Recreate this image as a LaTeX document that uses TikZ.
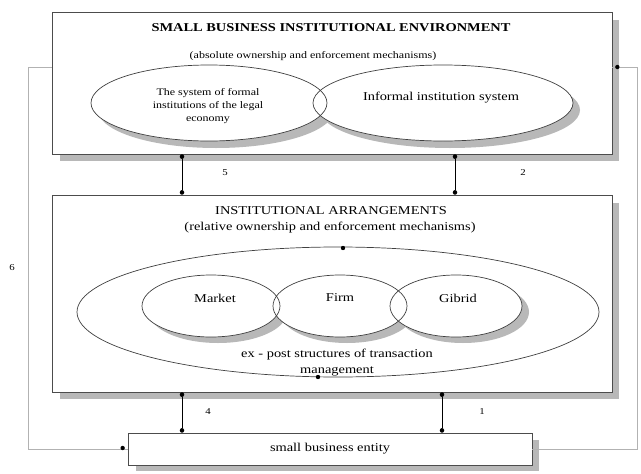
\documentclass[tikz,border=0pt]{standalone}
\usepackage{fontspec}
\setmainfont{Liberation Serif}[FakeStretch=1.2]
\usetikzlibrary{arrows.meta,calc}
\tikzset{
  box/.style={draw=black!70, line width=0.7pt, fill=white, rectangle, inner sep=0pt},
  conn/.style={draw=black, line width=0.5pt, {Circle[length=4.5pt]}-{Circle[length=4.5pt]}},
  fb/.style={draw=black!30, line width=0.8pt},
  lbl/.style={font=\fontsize{9}{10}\selectfont},
  txt/.style={font=\fontsize{12}{13}\selectfont, align=center},
  stxt/.style={font=\fontsize{10}{13}\selectfont, align=center},
  shd/.style={fill=black!28},
  ell/.style={draw=black!75, line width=0.7pt},
}
\begin{document}
\begin{tikzpicture}[x=1pt, y=-1pt]
\useasboundingbox (0,0) rectangle (641,474);
% box shadows
\fill[shd] (60,20) rectangle (619,161);
\fill[shd] (60,203) rectangle (619,399);
\fill[shd] (136,440) rectangle (539,471);
% boxes
\node[box, minimum width=560pt, minimum height=142pt] (top) at (332,83) {};
\node[box, minimum width=560pt, minimum height=197pt] (mid) at (332,293.5) {};
\node[box, minimum width=404pt, minimum height=32pt] (bot) at (330,449) {};
% feedback loops
\coordinate (lx) at (28,0);
\coordinate (rx) at (637,0);
\coordinate (fy) at (0,67);
\draw[fb] (top.west |- fy) -| (lx |- bot.west) -- (bot.west);
\fill[black] ($(bot.west)+(-5,-1)$) circle (2.2pt);
\draw[fb] (top.east |- fy) -| (rx |- bot.east) -- (bot.east);
\fill[black] ($(top.east |- fy)+(5,0)$) circle (2.2pt);
% top box texts
\node[font=\fontsize{12}{13}\selectfont\bfseries] (t1) at (331,28) {SMALL BUSINESS INSTITUTIONAL ENVIRONMENT};
\node[stxt] (t2) at (313,56) {(absolute ownership and enforcement mechanisms)};
% top ellipses
\fill[shd] (216,110) ellipse (118pt and 38pt);
\fill[shd] (450,110) ellipse (130pt and 38pt);
\fill[white] (209,103) ellipse (118pt and 38pt);
\fill[white] (443,103) ellipse (130pt and 38pt);
\draw[ell] (209,103) ellipse (118pt and 38pt);
\draw[ell] (443,103) ellipse (130pt and 38pt);
\node[stxt] (e1) at (208,106) {The system of formal\\institutions of the legal\\economy};
\node[txt] (e2) at (441,98) {Informal institution system};
% middle box texts
\node[txt] (m1) at (331,211) {INSTITUTIONAL ARRANGEMENTS};
\node[txt] (m2) at (330,228) {(relative ownership and enforcement mechanisms)};
% big ellipse
\draw[ell] (338,312) ellipse (261pt and 65pt);
\fill[black] (343,248) circle (2.2pt);
\fill[black] (318,377) circle (2.2pt);
% inner ellipses
\fill[shd] (218,312) ellipse (69pt and 31pt);
\fill[shd] (347,312) ellipse (67pt and 31pt);
\fill[shd] (463,312) ellipse (66pt and 31pt);
\fill[white] (211,306) ellipse (69pt and 31pt);
\fill[white] (340,306) ellipse (67pt and 31pt);
\fill[white] (456,306) ellipse (66pt and 31pt);
\draw[ell] (211,306) ellipse (69pt and 31pt);
\draw[ell] (340,306) ellipse (67pt and 31pt);
\draw[ell] (456,306) ellipse (66pt and 31pt);
\node[txt] (mk) at (215,298) {Market};
\node[txt] (fi) at (340,298) {Firm};
\node[txt] (gi) at (458,298) {Gibrid};
\node[txt, font=\fontsize{12}{16}\selectfont] (ep) at (337,363) {ex - post structures of transaction\\management};
% bottom text
\node[txt] (bt) at (bot.center) {small business entity};
% connectors
\coordinate (c5) at (182,0);
\coordinate (c2) at (455,0);
\coordinate (c4) at (182,0);
\coordinate (c1) at (442,0);
\draw[conn] (c5 |- top.south) -- (c5 |- mid.north);
\draw[conn] (c2 |- top.south) -- (c2 |- mid.north);
\draw[conn] (c4 |- mid.south) -- (c4 |- bot.north);
\draw[conn] (c1 |- mid.south) -- (c1 |- bot.north);
\node[lbl] at (225,173) {5};
\node[lbl] at (523,173) {2};
\node[lbl] at (208,412) {4};
\node[lbl] at (482,412) {1};
\node[lbl] at (12,268) {6};
\end{tikzpicture}
\end{document}
